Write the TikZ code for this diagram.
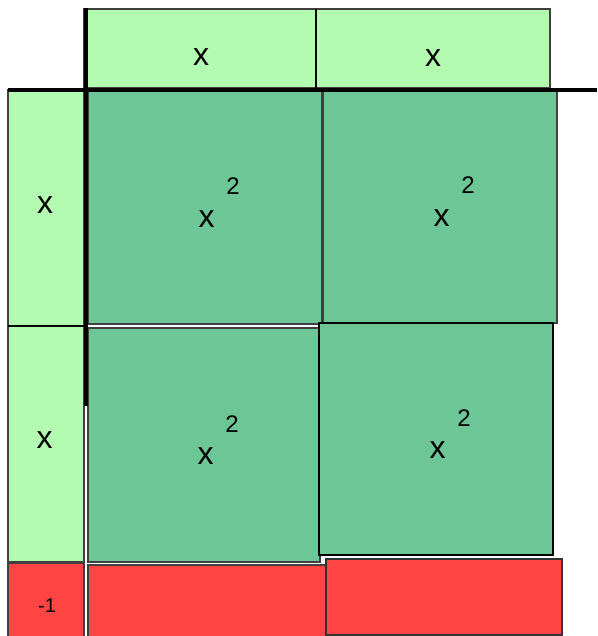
\documentclass[tikz,border=0pt]{standalone}
\usepackage{fontspec}
\setmainfont{Liberation Sans}
\usetikzlibrary{positioning}
\definecolor{tilelight}{HTML}{B3FBB0}
\definecolor{tilemid}{HTML}{6CC696}
\definecolor{tilered}{HTML}{FF4444}
\definecolor{edgegray}{HTML}{404040}
\tikzset{
  tile/.style={draw=edgegray, line width=2pt, inner sep=0pt, outer sep=0pt},
  xtile/.style={tile, fill=tilelight},
  sqtile/.style={tile, fill=tilemid},
  unittile/.style={tile, fill=tilered},
  varlbl/.style={font=\fontsize{32}{32}\selectfont, inner sep=0pt, anchor=base},
  powlbl/.style={font=\fontsize{24}{24}\selectfont, inner sep=0pt, anchor=base},
  unitlbl/.style={font=\fontsize{20}{20}\selectfont, inner sep=0pt, anchor=base},
  axisline/.style={black, line width=4pt},
  seamline/.style={black, line width=2pt}
}

\begin{document}
\begin{tikzpicture}[x=1pt, y=-1pt]
    \clip (0,0) rectangle (597,636);

    % Top row of x tiles
    \node[xtile, minimum width=232pt, minimum height=79pt] (topa) at (200,48.5) {};
    \node[xtile, minimum width=234pt, minimum height=79pt] (topb) at (433,48.5) {};
    \node[varlbl] (topax) at (201,66) {x};
    \node[varlbl] (topbx) at (433,67) {x};

    % Left column of x tiles
    \node[xtile, minimum width=76pt, minimum height=236pt] (lefta) at (46,208) {};
    \node[xtile, minimum width=76pt, minimum height=236pt] (leftb) at (46,444) {};
    \node[varlbl] (leftax) at (45,213) {x};
    \node[varlbl] (leftbx) at (44.5,448) {x};

    % x^2 squares
    \node[sqtile, minimum width=234pt, minimum height=233pt] (tl) at (205,207.5) {};
    \node[sqtile, minimum width=234pt, minimum height=232pt] (tr) at (440,207) {};
    \node[sqtile, minimum width=232pt, minimum height=234pt] (bl) at (204,445) {};
    \node[sqtile, draw=black, minimum width=234pt, minimum height=232pt] (br) at (436,439) {};
    \foreach \s in {tl,tr,bl,br} {
        \node[varlbl] (\s x) at ([shift={(1.5,19.5)}]\s.center) {x};
        \node[powlbl] (\s p) at ([shift={(28,-13)}]\s.center) {2};
    }

    % -1 row
    \node[unittile, minimum width=76pt, minimum height=82pt] (unita) at (46,604) {};
    \node[unittile, minimum width=238pt, minimum height=80pt] (unitb) at (207,605) {};
    \node[unittile, draw=black!80, minimum width=236pt, minimum height=76pt] (unitc) at (444,597) {};
    \node[unitlbl] (unitax) at (47,612) {-1};

    % Seams and axes
    \draw[seamline] (topa.north east) -- (topa.south east);
    \draw[seamline] (lefta.south west) -- (lefta.south east);
    \draw[axisline] (8,90) -- (597,90);
    \draw[axisline] (85.5,8) -- (85.5,406);
\end{tikzpicture}
\end{document}
